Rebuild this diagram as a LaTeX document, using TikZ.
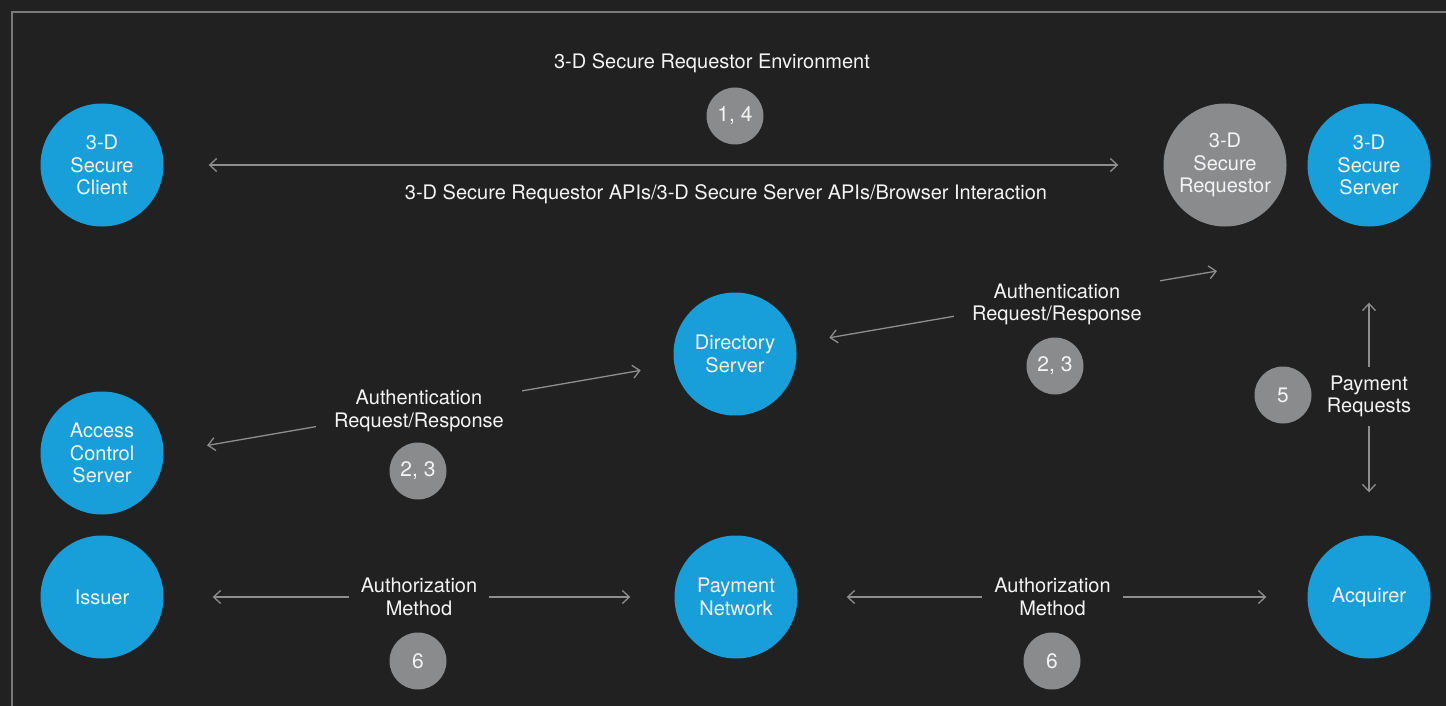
\documentclass[tikz,border=0pt]{standalone}
\usepackage{fontspec}
\setmainfont{TeX Gyre Heros}
\usetikzlibrary{arrows.meta}
\definecolor{bgdark}{HTML}{212121}
\definecolor{framegrey}{HTML}{7A7A7A}
\definecolor{tdsblue}{HTML}{189FD9}
\definecolor{tdsgrey}{HTML}{8A8B8C}
\definecolor{linegrey}{HTML}{8E8E8E}
\definecolor{txtwhite}{HTML}{F4F4F4}

\begin{document}
\begin{tikzpicture}[x=1pt,y=-1pt,
  font=\fontsize{20}{22.5}\selectfont,text=txtwhite,
  party/.style={circle,fill=tdsblue,minimum size=123pt,inner sep=0pt,align=center},
  actor/.style={party,fill=tdsgrey},
  badge/.style={circle,fill=tdsgrey,minimum size=57pt,inner sep=0pt,font=\fontsize{21}{24}\selectfont},
  flow/.style={draw=linegrey,line width=1.3pt,
    {Straight Barb[length=7pt,width=13pt]}-{Straight Barb[length=7pt,width=13pt]}},
  lbl/.style={fill=bgdark,align=center,inner xsep=12pt,inner ysep=4pt}]
\useasboundingbox (0,0) rectangle (1446,706);
\fill[bgdark] (0,0) rectangle (1446,706);
\draw[framegrey,line width=1.3pt] (12,706) -- (12,12) -- (1446,12);

\node[party] (client) at (102,165) {3-D\\Secure\\Client};
\node[actor] (req) at (1225,165) {3-D\\Secure\\Requestor};
\node[party] (server) at (1369,165) {3-D\\Secure\\Server};
\node[party] (dir) at (735,354) {Directory\\Server};
\node[party] (acs) at (102,453) {Access\\Control\\Server};
\node[party] (issuer) at (102,597) {Issuer};
\node[party] (paynet) at (736,597) {Payment\\Network};
\node[party] (acq) at (1369,597) {Acquirer};

\node (env) at (712,63) {3-D Secure Requestor Environment};
\node[badge] (b14) at (735,116) {1, 4};
\node (api) at (726,194) {3-D Secure Requestor APIs/3-D Secure Server APIs/Browser Interaction};
\draw[flow,shorten <=45pt,shorten >=45pt] (client) -- (req);

\coordinate (reqend) at (1217,271);
\draw[flow,shorten <=34pt] (dir) -- (reqend)
  node[lbl,pos=0.62,inner xsep=18pt,yshift=-6pt] (authR) {Authentication\\Request/Response};
\node[badge] (b23r) at (1055,366) {2, 3};

\draw[flow,shorten <=44pt,shorten >=34pt] (acs.east) -- (dir)
  node[lbl,midway,inner xsep=18pt,yshift=-2pt] (authL) {Authentication\\Request/Response};
\node[badge] (b23l) at (418,471) {2, 3};

\draw[flow,shorten <=76pt,shorten >=43pt] (server) -- (acq)
  node[lbl,pos=0.55,inner xsep=0pt,inner ysep=9pt] (payreq) {Payment\\Requests};
\node[badge] (b5) at (1283,395) {5};

\draw[flow,shorten <=49pt,shorten >=44pt] (issuer) -- (paynet)
  node[lbl,midway] (authzL) {Authorization\\Method};
\node[badge] (b6l) at (418,661) {6};
\draw[flow,shorten <=49pt,shorten >=41pt] (paynet) -- (acq)
  node[lbl,midway] (authzR) {Authorization\\Method};
\node[badge] (b6r) at (1052,661) {6};
\end{tikzpicture}
\end{document}
